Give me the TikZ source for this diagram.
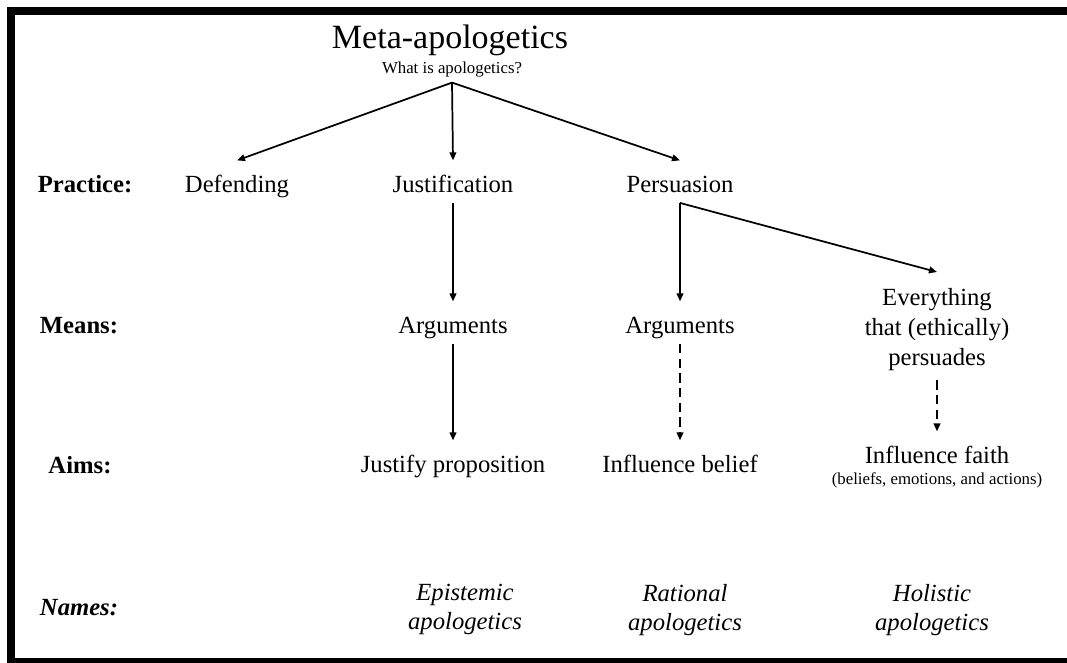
\documentclass[tikz,border=0pt]{standalone}
\usepackage{fontspec}
\setmainfont{Liberation Serif}
\usetikzlibrary{arrows.meta}
\newcommand\entryfont{\fontsize{18.5}{22.5}\selectfont}
\newcommand\titlefont{\fontsize{25.5}{30}\selectfont}
\newcommand\notefont{\fontsize{12.6}{15}\selectfont}
\tikzset{
    % Define standard node styles
    item/.style={
        font=\entryfont, anchor=base,
        text height=20pt, text depth=4.5pt,
        inner xsep=2pt, inner ysep=3.5pt
    },
    rowlabel/.style={
        font=\entryfont\bfseries, anchor=base, inner sep=0pt
    },
    stack/.style={
        font=\entryfont, align=center, anchor=north,
        inner xsep=2pt, inner ysep=12pt
    },
    naming/.style={
        font=\fontsize{18.5}{21.5}\selectfont\itshape,
        align=center, anchor=north, inner sep=0pt
    },
    link/.style={
        -{Triangle[length=6pt,width=5pt]}, line width=1.3pt
    },
    weaklink/.style={
        link, dash pattern=on 7pt off 4pt
    }
}

\begin{document}
\begin{tikzpicture}[x=0.75pt,y=-0.75pt]

\useasboundingbox (0,0) rectangle (1067,662);

% Frame
\begin{scope}
\clip (0,0) rectangle (1067,662);
\draw[line width=6pt] (11,11) rectangle (1090,662);
\end{scope}

% Title
\node[anchor=base, font=\titlefont, inner sep=0pt] (title) at (450,48) {Meta-apologetics};
\node[anchor=base, font=\notefont, text depth=2.5pt, inner ysep=4.5pt] (question) at (452,73) {What is apologetics?};

% Row labels
\node[rowlabel] (practice) at (85,192) {Practice:};
\node[rowlabel] (means) at (79,333) {Means:};
\node[rowlabel] (aims) at (80,473) {Aims:};
\node[rowlabel, font=\entryfont\bfseries\itshape] (names) at (79,615) {Names:};

% Practice
\node[item] (defend) at (237,192) {Defending};
\node[item] (justif) at (453,192) {Justification};
\node[item] (persu) at (680,192) {Persuasion};

% Means
\node[item] (argsJ) at (453,333) {Arguments};
\node[item] (argsP) at (680,333) {Arguments};
\node[stack] (everything) at (937,272) {Everything\\that (ethically)\\persuades};

% Aims
\node[item] (justify) at (453,472) {Justify proposition};
\node[item] (belief) at (680,472) {Influence belief};
\node[item] (faith) at (937,463) {Influence faith};
\node[anchor=base, font=\notefont, inner sep=0pt] (faithnote) at (937,484) {(beliefs, emotions, and actions)};

% Names
\node[naming] (epist) at (465,584) {Epistemic\\apologetics};
\node[naming] (ration) at (685,584) {Rational\\apologetics};
\node[naming] (holist) at (932,584) {Holistic\\apologetics};

% Connectors
\draw[link] (question.south) -- (defend.north);
\draw[link] (question.south) -- (justif.north);
\draw[link] (question.south) -- (persu.north);
\draw[link] (justif.south) -- (argsJ.north);
\draw[link] (argsJ.south) -- (justify.north);
\draw[link] (persu.south) -- (argsP.north);
\draw[link] (persu.south) -- (everything.north);
\draw[weaklink] (argsP.south) -- (belief.north);
\draw[weaklink, shorten <=-5pt] (everything.south) -- (faith.north);

\end{tikzpicture}
\end{document}
